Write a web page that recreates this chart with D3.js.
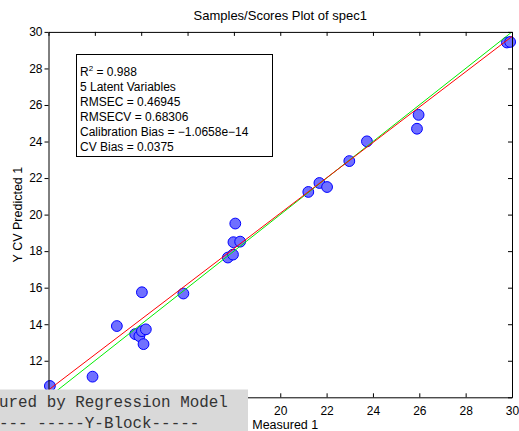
<!DOCTYPE html>
<html>
<head>
<meta charset="utf-8">
<script src="https://cdn.jsdelivr.net/npm/d3@7"></script>
<style>
  html, body { margin: 0; padding: 0; background: #fff; }
  svg { display: block; }
  text { font-family: "Liberation Sans", Arial, Helvetica, sans-serif; }
</style>
</head>
<body>
<svg id="chart" width="519" height="431"></svg>
<script>
// ---- data ----
const measured  = [10.06, 11.90, 12.95, 14.03, 15.82, 13.74, 13.92, 14.03, 14.20, 14.10,
                   18.06, 17.98, 18.27, 17.74, 17.96, 21.21, 21.69, 22.02, 22.98, 23.74,
                   25.90, 25.97, 29.78, 29.92];
const predicted = [10.62, 11.13, 13.90, 15.75, 15.68, 13.46, 13.35, 13.62, 13.72, 12.91,
                   19.51, 18.49, 18.52, 17.65, 17.81, 21.24, 21.73, 21.51, 22.93, 24.01,
                   24.70, 25.46, 29.42, 29.45];
const xTicks = [10, 12, 14, 16, 18, 20, 22, 24, 26, 28, 30];
const yTicks = [10, 12, 14, 16, 18, 20, 22, 24, 26, 28, 30];
// tick labels that are visible (the rest lie under the grey overlay)
const xTickLabels = [20, 22, 24, 26, 28, 30];
const yTickLabels = [12, 14, 16, 18, 20, 22, 24, 26, 28, 30];
const fitSlope = 0.9675;
const fitIntercept = 0.725;
const statsLines = ["5 Latent Variables", "RMSEC = 0.46945", "RMSECV = 0.68306",
                    "Calibration Bias = \u22121.0658e\u221214", "CV Bias = 0.0375"];
const r2Value = "0.988";
const overlayLines = ["ured by Regression Model", "--- -----Y-Block-----"];

// ---- layout ----
const L = 48.5, R = 512, T = 31.9, B = 397.3;
const svg = d3.select("#chart");
const x = d3.scaleLinear().domain([10, 30]).range([L, R]);
const y = d3.scaleLinear().domain([10, 30]).range([B, T]);

// points
svg.append("g").selectAll("circle")
  .data(measured.map((m, i) => [m, predicted[i]]))
  .join("circle")
  .attr("cx", d => x(d[0])).attr("cy", d => y(d[1])).attr("r", 5.4)
  .attr("fill", "#7070ff").attr("stroke", "#0000ff").attr("stroke-width", 1);

// lines
svg.append("clipPath").attr("id", "pc").append("rect")
  .attr("x", L).attr("y", T).attr("width", R - L).attr("height", B - T);
const lg = svg.append("g").attr("clip-path", "url(#pc)");
const line = d3.line().x(d => x(d[0])).y(d => y(d[1]));
lg.append("path").datum([[10, 10], [30, 30]]).attr("d", line)
  .attr("stroke", "#00ee00").attr("stroke-width", 1).attr("fill", "none");
lg.append("path").datum([[10, fitIntercept + fitSlope * 10], [30, fitIntercept + fitSlope * 30]]).attr("d", line)
  .attr("stroke", "#ff0000").attr("stroke-width", 1).attr("fill", "none");

// axes
const fx = v => xTickLabels.includes(v) ? d3.format("d")(v) : "";
const fy = v => yTickLabels.includes(v) ? d3.format("d")(v) : "";
const ax = svg.append("g").attr("transform", `translate(0,${B})`)
  .call(d3.axisBottom(x).tickValues(xTicks).tickFormat(fx).tickSizeInner(-4).tickSizeOuter(0).tickPadding(9));
const ay = svg.append("g").attr("transform", `translate(${L},0)`)
  .call(d3.axisLeft(y).tickValues(yTicks).tickFormat(fy).tickSizeInner(4).tickSizeOuter(0).tickPadding(2));
const at = svg.append("g").attr("transform", `translate(0,${T})`)
  .call(d3.axisTop(x).tickValues(xTicks).tickFormat("").tickSizeInner(-4).tickSizeOuter(0));
const ar = svg.append("g").attr("transform", `translate(${R},0)`)
  .call(d3.axisRight(y).tickValues(yTicks).tickFormat("").tickSizeInner(-4).tickSizeOuter(0));
[ax, ay, at, ar].forEach(g => {
  g.selectAll("path.domain").attr("stroke", "#000").attr("stroke-width", 1);
  g.selectAll(".tick line").attr("stroke", "#000");
  g.selectAll(".tick text").attr("fill", "#000").style("font-size", "12px")
    .style("font-family", "'Liberation Sans', Arial, Helvetica, sans-serif");
  g.selectAll(".tick text").filter(function() { return this.textContent === ""; }).remove();
});

// title & labels
svg.append("text").attr("x", (L + R) / 2).attr("y", 20).attr("text-anchor", "middle")
  .style("font-size", "13px").text("Samples/Scores Plot of spec1");
svg.append("text").attr("transform", `translate(22,${(T + B) / 2}) rotate(-90)`)
  .attr("text-anchor", "middle").style("font-size", "12.5px").text("Y CV Predicted 1");
svg.append("text").attr("x", (L + R) / 2 + 5).attr("y", 429).attr("text-anchor", "middle")
  .style("font-size", "12.5px").text("Measured 1");

// stats box
svg.append("rect").attr("x", 76.5).attr("y", 54.5).attr("width", 196).attr("height", 102)
  .attr("fill", "#fff").attr("stroke", "#000").attr("stroke-width", 1);
const st = svg.append("text").attr("x", 80).attr("y", 76).style("font-size", "12px");
st.append("tspan").text("R");
st.append("tspan").attr("dy", -5).style("font-size", "8px").text("2");
st.append("tspan").attr("dy", 5).text(" = " + r2Value);
svg.append("g").selectAll("text").data(statsLines).join("text")
  .attr("x", 80).attr("y", (d, i) => 91 + i * 15).style("font-size", "12px").text(d => d);

// overlay grey box
svg.append("rect").attr("x", 0).attr("y", 389.5).attr("width", 248).attr("height", 42)
  .attr("fill", "#d9d9d9");
svg.append("g").selectAll("text").data(overlayLines).join("text")
  .attr("x", -1).attr("y", (d, i) => 407 + i * 20.5)
  .style("font-family", "'Liberation Mono', 'Courier New', monospace")
  .style("font-size", "15.9px").attr("fill", "#333").text(d => d);
</script>
</body>
</html>
